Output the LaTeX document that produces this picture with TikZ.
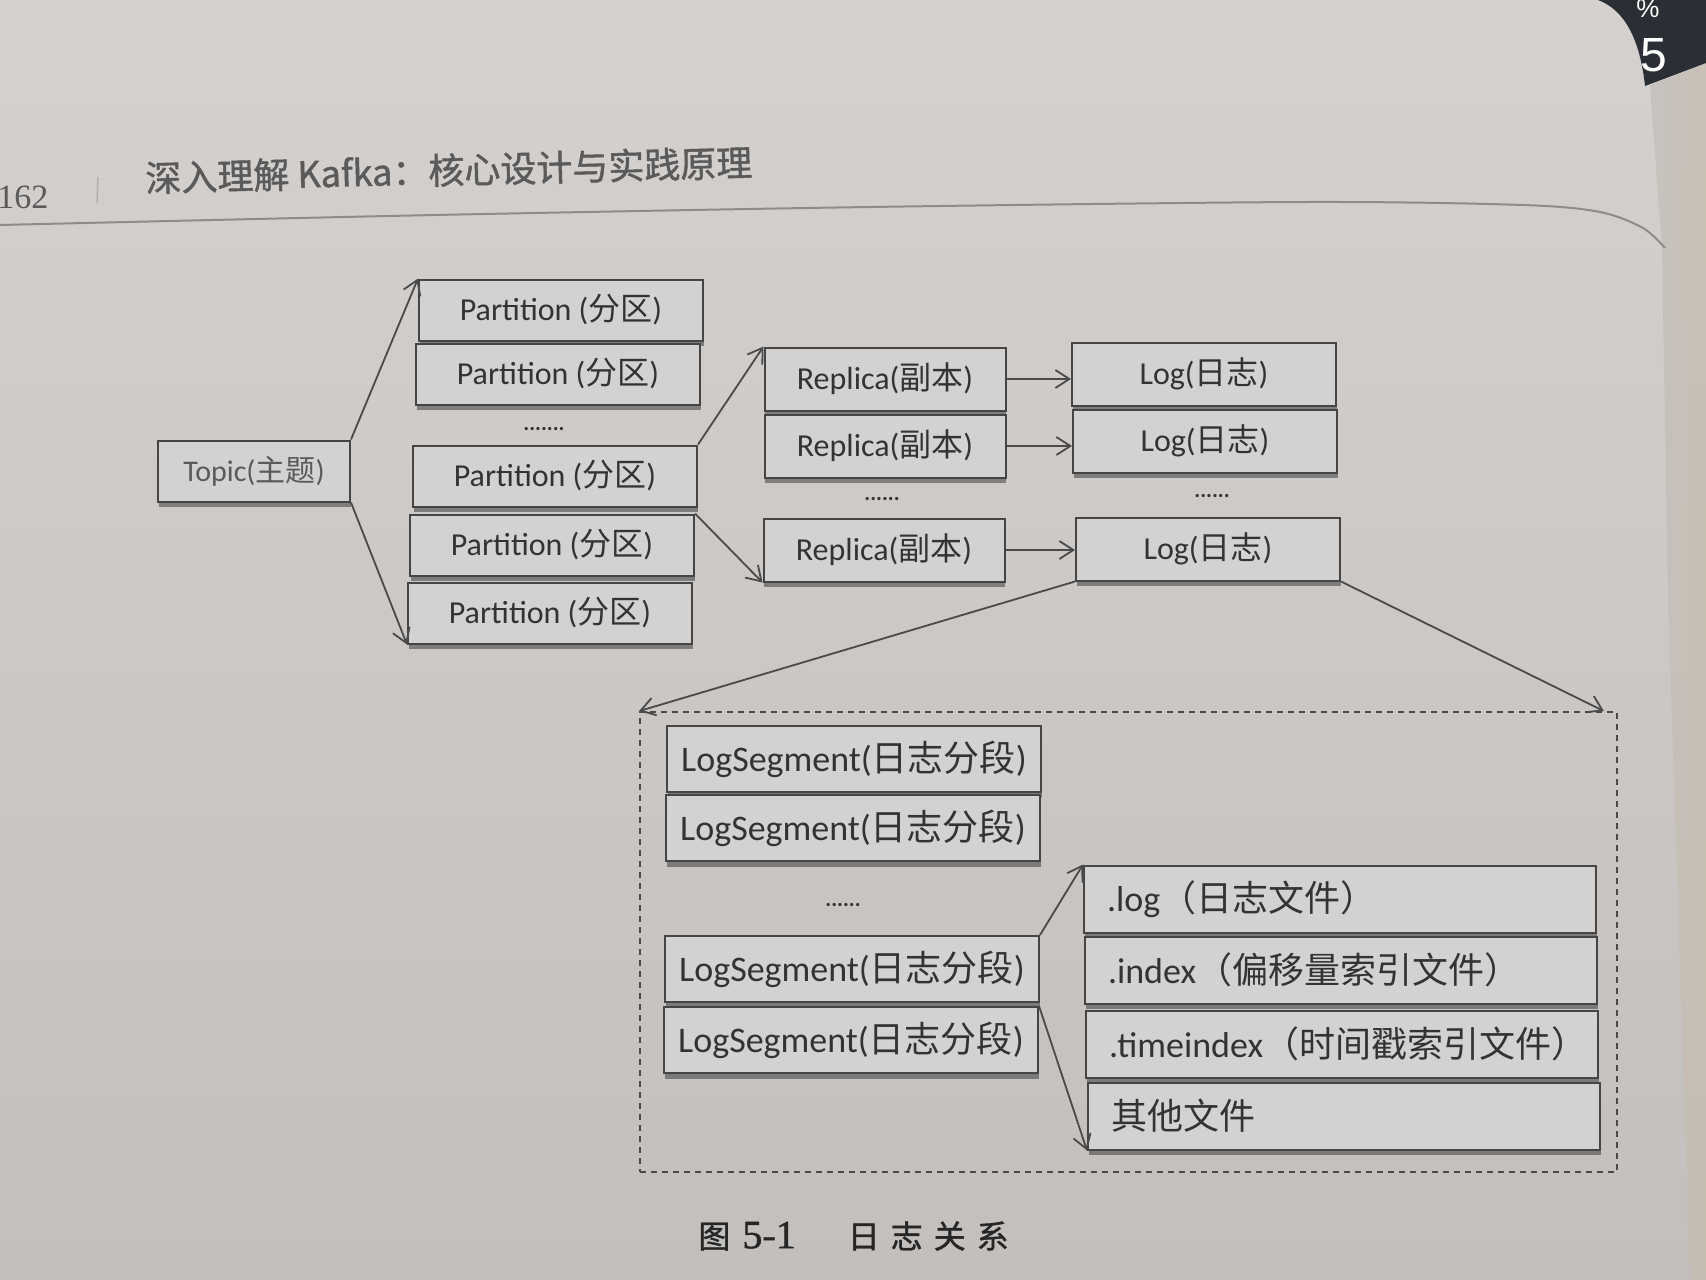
\documentclass[tikz,border=0pt]{standalone}
\usepackage{fontspec}
\setmainfont{Carlito}
\newfontfamily\cjkfont{Noto Sans CJK SC}
\newfontfamily\cjkbold[FakeBold=1.2]{Noto Sans CJK SC}
\newfontfamily\serifnum{Liberation Serif}
\newfontfamily\serifbold[FakeBold=1.2]{Liberation Serif}
\newfontfamily\phonefont{Liberation Sans}
\usetikzlibrary{arrows.meta,shadows}
\newcommand\zh[1]{{\cjkfont #1}}
\definecolor{pagetop}{HTML}{D4D1CF}
\definecolor{pagebot}{HTML}{C3BFBC}
\definecolor{boxfill}{HTML}{D3D2D0}
\definecolor{boxline}{HTML}{454545}
\definecolor{txt}{HTML}{333333}
\definecolor{txtlight}{HTML}{5A5A5A}
\definecolor{lncol}{HTML}{4A4A4A}
\definecolor{edgebeige}{HTML}{C7BDAF}
\definecolor{darkcorner}{HTML}{2B2F35}
\tikzset{
  box/.style={draw=boxline, line width=1pt, fill=boxfill, text=txt, inner sep=0pt,
    font=\fontsize{16}{18}\selectfont,
    drop shadow={shadow xshift=0.4pt, shadow yshift=-2.8pt, fill=black!80, opacity=0.5}},
  part/.style={box, minimum width=142pt, minimum height=30.5pt},
  repl/.style={box, minimum width=120.5pt, minimum height=31.5pt},
  logb/.style={box, minimum width=132pt, minimum height=31.5pt},
  seg/.style={box, minimum width=187pt, minimum height=33pt, font=\fontsize{18}{20}\selectfont},
  filebox/.style={box, minimum width=256pt, minimum height=33.5pt, font=\fontsize{18}{20}\selectfont,
    text width=233pt, align=left, inner xsep=11.5pt},
  conn/.style={draw=lncol, line width=0.9pt, -{Straight Barb[length=7pt,width=9pt]}},
  dotsnode/.style={text=txt, font=\fontsize{11}{12}\selectfont\bfseries, inner sep=0pt},
  groupbox/.style={draw=lncol, line width=0.9pt, dash pattern=on 3pt off 2.5pt, inner sep=0pt},
}
\begin{document}
\begin{tikzpicture}[x=0.5pt,y=-0.5pt]
\useasboundingbox (0,0) rectangle (1706,1279);
% page background
\shade[top color=pagetop, bottom color=pagebot] (0,0) rectangle (1706,1279);
\shade[left color=pagebot, right color=edgebeige, opacity=0.8]
  (1650,85) -- (1706,63) -- (1706,1279) -- (1690,1279) -- (1668,600) -- (1662,250) -- cycle;
\fill[darkcorner] (1598,0) .. controls (1625,10) and (1640,40) .. (1645,86) -- (1706,63) -- (1706,0) -- cycle;
\node[text=white, font=\phonefont\fontsize{13}{14}\selectfont, inner sep=0pt] (pct) at (1648,9) {\%};
\node[text=white, font=\phonefont\fontsize{24}{26}\selectfont, inner sep=0pt] (five) at (1654,55) {5};
% header
\draw[draw=black!45, line width=1pt] plot[smooth] coordinates {(0,225) (435,215) (870,207) (1306,202) (1523,205) (1600,212) (1643,228) (1665,248)};
\node[anchor=west, text=txtlight, font=\serifnum\fontsize{17}{19}\selectfont, inner sep=0pt] (pgno) at (-3,197) {162};
\draw[draw=black!30, line width=0.8pt] (98,177) -- (97,203);
\node[anchor=west, text=txtlight, font=\cjkbold\fontsize{18}{20}\selectfont, inner sep=0pt, rotate=1.5] (title) at (145,178) {深入理解 Kafka：核心设计与实践原理};
% topic and partitions
\node[box, minimum width=96pt, minimum height=30.5pt, text=txtlight, font=\fontsize{15}{17}\selectfont] (topic) at (254,471) {Topic(\zh{主题})};
\node[part] (p1) at (561,310) {Partition (\zh{分区})};
\node[part] (p2) at (558,374) {Partition (\zh{分区})};
\node[dotsnode] (pd) at (544,429) {.......};
\node[part] (p3) at (555,476) {Partition (\zh{分区})};
\node[part] (p4) at (552,545) {Partition (\zh{分区})};
\node[part] (p5) at (550,613) {Partition (\zh{分区})};
% replicas
\node[repl] (r1) at (885,379) {Replica(\zh{副本})};
\node[repl] (r2) at (885,446) {Replica(\zh{副本})};
\node[dotsnode] (rd) at (882,499) {......};
\node[repl] (r3) at (884,550) {Replica(\zh{副本})};
% logs
\node[logb] (l1) at (1204,374) {Log(\zh{日志})};
\node[logb] (l2) at (1205,441) {Log(\zh{日志})};
\node[dotsnode] (ld) at (1212,496) {......};
\node[logb] (l3) at (1208,549) {Log(\zh{日志})};
% group
\node[groupbox, minimum width=488.5pt, minimum height=230pt] (grp) at (1128.5,942) {};
% segments
\node[seg] (s1) at (854,759) {LogSegment(\zh{日志分段})};
\node[seg] (s2) at (853,828) {LogSegment(\zh{日志分段})};
\node[dotsnode] (sd) at (843,905) {......};
\node[seg] (s3) at (852,969) {LogSegment(\zh{日志分段})};
\node[seg] (s4) at (851,1040) {LogSegment(\zh{日志分段})};
% files
\node[filebox] (f1) at (1340,899) {.log\zh{（日志文件）}};
\node[filebox] (f2) at (1341,970) {.index\zh{（偏移量索引文件）}};
\node[filebox] (f3) at (1342,1044) {.timeindex\zh{（时间戳索引文件）}};
\node[filebox] (f4) at (1344,1116) {\zh{其他文件}};
% connectors
\draw[conn] (topic.north east) -- (p1.north west);
\draw[conn] (topic.south east) -- (p5.south west);
\draw[conn] (p3.north east) -- (r1.north west);
\draw[conn] (p4.north east) -- (r3.south west);
\draw[conn] (r1.east) -- (r1.east -| l1.west);
\draw[conn] (r2.east) -- (r2.east -| l2.west);
\draw[conn] (r3.east) -- (r3.east -| l3.west);
\draw[conn] (l3.south west) -- (grp.north west);
\draw[conn] (l3.south east) -- ([xshift=-7pt]grp.north east);
\draw[conn] (s3.north east) -- (f1.north west);
\draw[conn] (s4.north east) -- (f4.south west);
% caption
\node[anchor=west, text=black!85, font=\fontsize{16}{18}\selectfont, inner sep=0pt] (cap) at (698,1236)
  {{\cjkbold 图}\hspace{6pt}{\serifbold\fontsize{20}{22}\selectfont 5-1}\hspace{26pt}{\cjkbold 日\hspace{5.5pt}志\hspace{5.5pt}关\hspace{5.5pt}系}};
\end{tikzpicture}
\end{document}
